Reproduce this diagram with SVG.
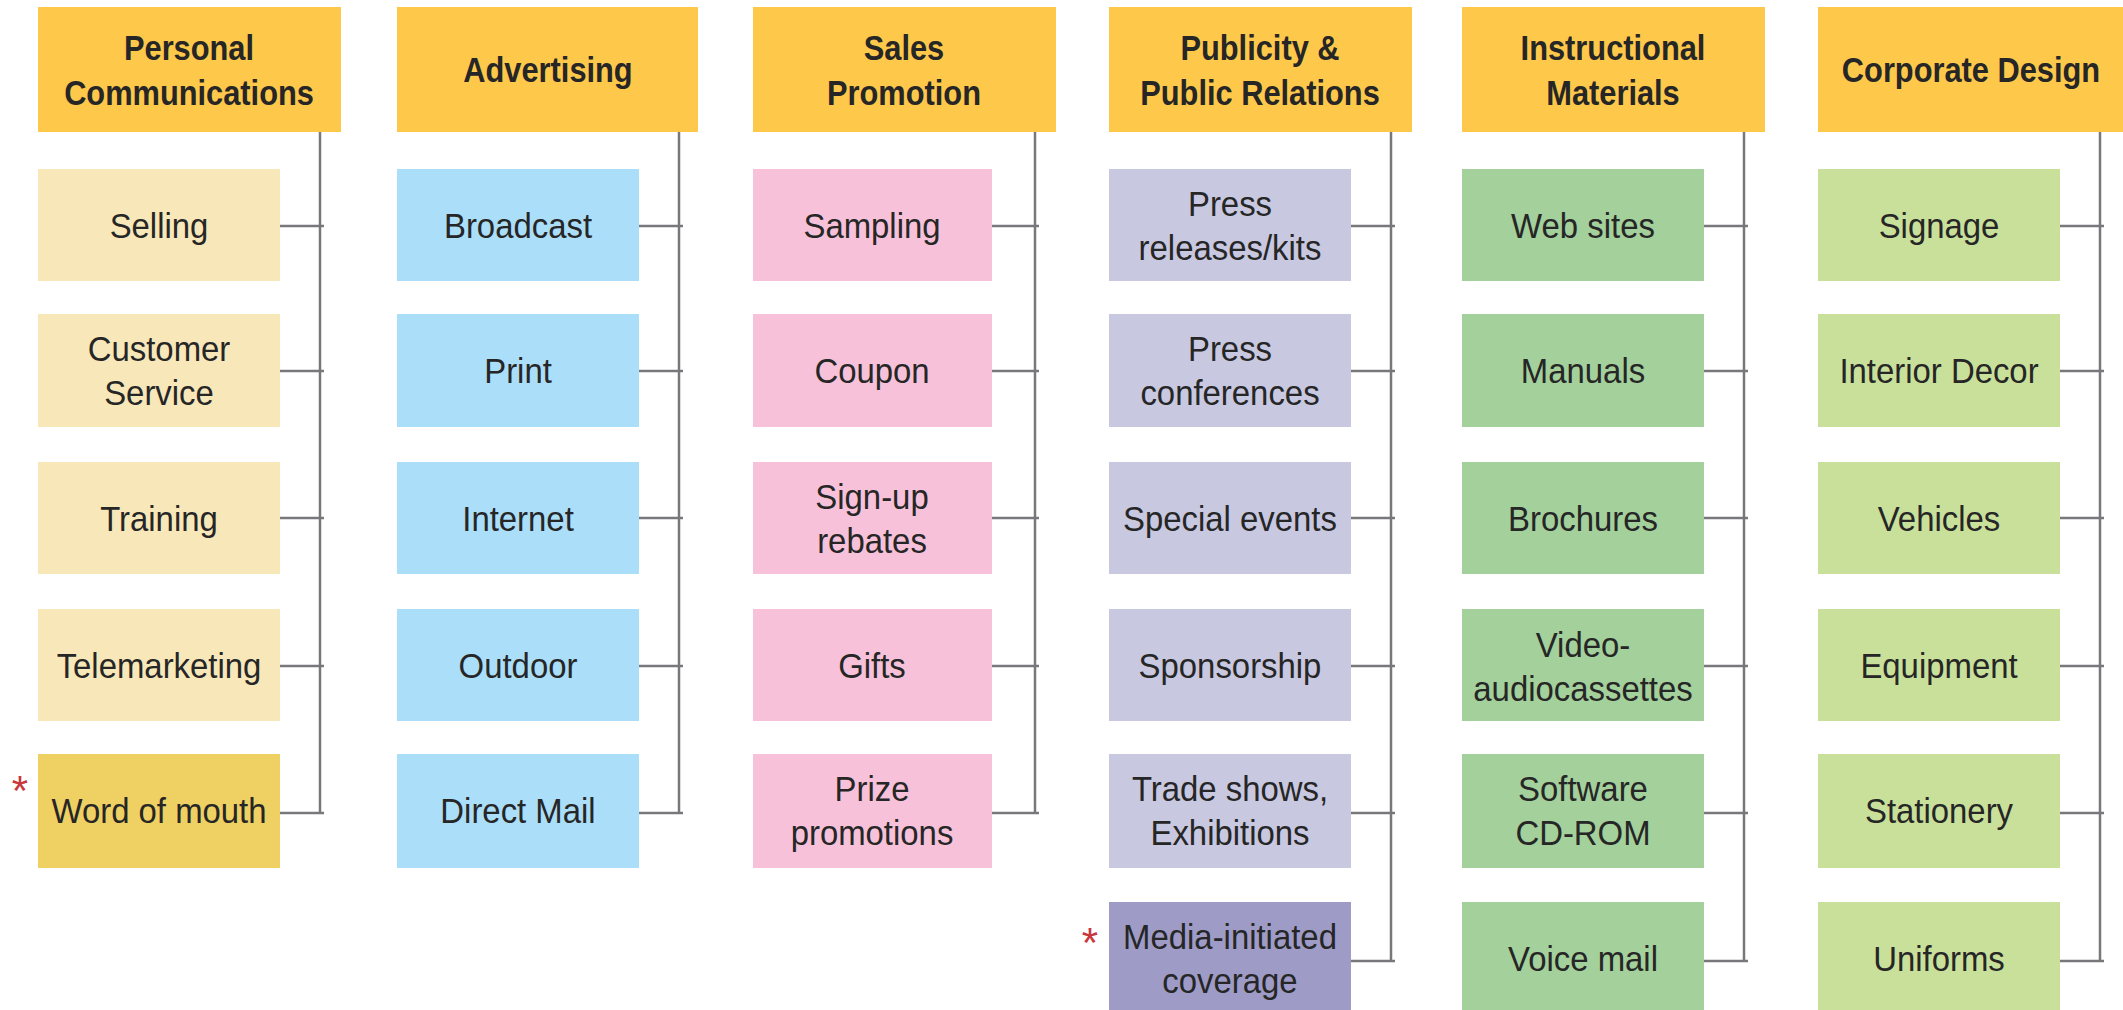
<svg xmlns="http://www.w3.org/2000/svg" width="2123" height="1010" viewBox="0 0 2123 1010">
  <style>
    .hd { fill: #FEC84B; }
    .c1 { fill: #F8E8B9; }
    .c1x { fill: #EFD062; }
    .c2 { fill: #AADEF9; }
    .c3 { fill: #F7C2D9; }
    .c4 { fill: #C8C8E1; }
    .c4x { fill: #9E9CC7; }
    .c5 { fill: #A3D09B; }
    .c6 { fill: #C9E09B; }
    text { font-family: "Liberation Sans", Arial, sans-serif; font-size: 35px; fill: #262626; text-anchor: middle; }
    .b { font-weight: bold; }
    .star { fill: #C8373C; font-size: 42px; }
    .ln { stroke: #77777C; stroke-width: 2.5; fill: none; }
  </style>

  <!-- Connectors: one trunk per column with a tick to each item -->
  <g id="connectors" class="ln">
    <path d="M320 132 V813 M280 226 H324 M280 371 H324 M280 518 H324 M280 666 H324 M280 813 H324"/>
    <path d="M679 132 V813 M639 226 H683 M639 371 H683 M639 518 H683 M639 666 H683 M639 813 H683"/>
    <path d="M1035 132 V813 M992 226 H1039 M992 371 H1039 M992 518 H1039 M992 666 H1039 M992 813 H1039"/>
    <path d="M1391 132 V961 M1351 226 H1395 M1351 371 H1395 M1351 518 H1395 M1351 666 H1395 M1351 813 H1395 M1351 961 H1395"/>
    <path d="M1744 132 V961 M1704 226 H1748 M1704 371 H1748 M1704 518 H1748 M1704 666 H1748 M1704 813 H1748 M1704 961 H1748"/>
    <path d="M2100 132 V961 M2060 226 H2104 M2060 371 H2104 M2060 518 H2104 M2060 666 H2104 M2060 813 H2104 M2060 961 H2104"/>
  </g>

  <!-- Column 1: Personal Communications -->
  <g id="personal-communications">
    <rect class="hd" x="38" y="7" width="303" height="125"/>
    <text class="b" transform="translate(189,0) scale(0.88,1)"><tspan x="0" y="60">Personal</tspan><tspan x="0" y="105">Communications</tspan></text>
  </g>
  <g id="selling">
    <rect class="c1" x="38" y="169" width="242" height="112"/>
    <text transform="translate(159,238) scale(0.94,1)">Selling</text>
  </g>
  <g id="customer-service">
    <rect class="c1" x="38" y="314" width="242" height="113"/>
    <text transform="translate(159,0) scale(0.94,1)"><tspan x="0" y="361">Customer</tspan><tspan x="0" y="405">Service</tspan></text>
  </g>
  <g id="training">
    <rect class="c1" x="38" y="462" width="242" height="112"/>
    <text transform="translate(159,531) scale(0.94,1)">Training</text>
  </g>
  <g id="telemarketing">
    <rect class="c1" x="38" y="609" width="242" height="112"/>
    <text transform="translate(159,678) scale(0.94,1)">Telemarketing</text>
  </g>
  <g id="word-of-mouth">
    <rect class="c1x" x="38" y="754" width="242" height="114"/>
    <text transform="translate(159,823) scale(0.94,1)">Word of mouth</text>
    <text class="star" x="20" y="805">*</text>
  </g>

  <!-- Column 2: Advertising -->
  <g id="advertising">
    <rect class="hd" x="397" y="7" width="301" height="125"/>
    <text class="b" transform="translate(548,82) scale(0.88,1)">Advertising</text>
  </g>
  <g id="broadcast">
    <rect class="c2" x="397" y="169" width="242" height="112"/>
    <text transform="translate(518,238) scale(0.94,1)">Broadcast</text>
  </g>
  <g id="print">
    <rect class="c2" x="397" y="314" width="242" height="113"/>
    <text transform="translate(518,383) scale(0.94,1)">Print</text>
  </g>
  <g id="internet">
    <rect class="c2" x="397" y="462" width="242" height="112"/>
    <text transform="translate(518,531) scale(0.94,1)">Internet</text>
  </g>
  <g id="outdoor">
    <rect class="c2" x="397" y="609" width="242" height="112"/>
    <text transform="translate(518,678) scale(0.94,1)">Outdoor</text>
  </g>
  <g id="direct-mail">
    <rect class="c2" x="397" y="754" width="242" height="114"/>
    <text transform="translate(518,823) scale(0.94,1)">Direct Mail</text>
  </g>

  <!-- Column 3: Sales Promotion -->
  <g id="sales-promotion">
    <rect class="hd" x="753" y="7" width="303" height="125"/>
    <text class="b" transform="translate(904,0) scale(0.88,1)"><tspan x="0" y="60">Sales</tspan><tspan x="0" y="105">Promotion</tspan></text>
  </g>
  <g id="sampling">
    <rect class="c3" x="753" y="169" width="239" height="112"/>
    <text transform="translate(872,238) scale(0.94,1)">Sampling</text>
  </g>
  <g id="coupon">
    <rect class="c3" x="753" y="314" width="239" height="113"/>
    <text transform="translate(872,383) scale(0.94,1)">Coupon</text>
  </g>
  <g id="sign-up-rebates">
    <rect class="c3" x="753" y="462" width="239" height="112"/>
    <text transform="translate(872,0) scale(0.94,1)"><tspan x="0" y="509">Sign-up</tspan><tspan x="0" y="553">rebates</tspan></text>
  </g>
  <g id="gifts">
    <rect class="c3" x="753" y="609" width="239" height="112"/>
    <text transform="translate(872,678) scale(0.94,1)">Gifts</text>
  </g>
  <g id="prize-promotions">
    <rect class="c3" x="753" y="754" width="239" height="114"/>
    <text transform="translate(872,0) scale(0.94,1)"><tspan x="0" y="801">Prize</tspan><tspan x="0" y="845">promotions</tspan></text>
  </g>

  <!-- Column 4: Publicity & Public Relations -->
  <g id="publicity-public-relations">
    <rect class="hd" x="1109" y="7" width="303" height="125"/>
    <text class="b" transform="translate(1260,0) scale(0.88,1)"><tspan x="0" y="60">Publicity &amp;</tspan><tspan x="0" y="105">Public Relations</tspan></text>
  </g>
  <g id="press-releases">
    <rect class="c4" x="1109" y="169" width="242" height="112"/>
    <text transform="translate(1230,0) scale(0.94,1)"><tspan x="0" y="216">Press</tspan><tspan x="0" y="260">releases/kits</tspan></text>
  </g>
  <g id="press-conferences">
    <rect class="c4" x="1109" y="314" width="242" height="113"/>
    <text transform="translate(1230,0) scale(0.94,1)"><tspan x="0" y="361">Press</tspan><tspan x="0" y="405">conferences</tspan></text>
  </g>
  <g id="special-events">
    <rect class="c4" x="1109" y="462" width="242" height="112"/>
    <text transform="translate(1230,531) scale(0.94,1)">Special events</text>
  </g>
  <g id="sponsorship">
    <rect class="c4" x="1109" y="609" width="242" height="112"/>
    <text transform="translate(1230,678) scale(0.94,1)">Sponsorship</text>
  </g>
  <g id="trade-shows">
    <rect class="c4" x="1109" y="754" width="242" height="114"/>
    <text transform="translate(1230,0) scale(0.94,1)"><tspan x="0" y="801">Trade shows,</tspan><tspan x="0" y="845">Exhibitions</tspan></text>
  </g>
  <g id="media-initiated-coverage">
    <rect class="c4x" x="1109" y="902" width="242" height="112"/>
    <text transform="translate(1230,0) scale(0.94,1)"><tspan x="0" y="949">Media-initiated</tspan><tspan x="0" y="993">coverage</tspan></text>
    <text class="star" x="1090" y="957">*</text>
  </g>

  <!-- Column 5: Instructional Materials -->
  <g id="instructional-materials">
    <rect class="hd" x="1462" y="7" width="303" height="125"/>
    <text class="b" transform="translate(1613,0) scale(0.88,1)"><tspan x="0" y="60">Instructional</tspan><tspan x="0" y="105">Materials</tspan></text>
  </g>
  <g id="web-sites">
    <rect class="c5" x="1462" y="169" width="242" height="112"/>
    <text transform="translate(1583,238) scale(0.94,1)">Web sites</text>
  </g>
  <g id="manuals">
    <rect class="c5" x="1462" y="314" width="242" height="113"/>
    <text transform="translate(1583,383) scale(0.94,1)">Manuals</text>
  </g>
  <g id="brochures">
    <rect class="c5" x="1462" y="462" width="242" height="112"/>
    <text transform="translate(1583,531) scale(0.94,1)">Brochures</text>
  </g>
  <g id="video-audiocassettes">
    <rect class="c5" x="1462" y="609" width="242" height="112"/>
    <text transform="translate(1583,0) scale(0.94,1)"><tspan x="0" y="657">Video-</tspan><tspan x="0" y="701">audiocassettes</tspan></text>
  </g>
  <g id="software-cd-rom">
    <rect class="c5" x="1462" y="754" width="242" height="114"/>
    <text transform="translate(1583,0) scale(0.94,1)"><tspan x="0" y="801">Software</tspan><tspan x="0" y="845">CD-ROM</tspan></text>
  </g>
  <g id="voice-mail">
    <rect class="c5" x="1462" y="902" width="242" height="112"/>
    <text transform="translate(1583,971) scale(0.94,1)">Voice mail</text>
  </g>

  <!-- Column 6: Corporate Design -->
  <g id="corporate-design">
    <rect class="hd" x="1818" y="7" width="305" height="125"/>
    <text class="b" transform="translate(1971,82) scale(0.88,1)">Corporate Design</text>
  </g>
  <g id="signage">
    <rect class="c6" x="1818" y="169" width="242" height="112"/>
    <text transform="translate(1939,238) scale(0.94,1)">Signage</text>
  </g>
  <g id="interior-decor">
    <rect class="c6" x="1818" y="314" width="242" height="113"/>
    <text transform="translate(1939,383) scale(0.94,1)">Interior Decor</text>
  </g>
  <g id="vehicles">
    <rect class="c6" x="1818" y="462" width="242" height="112"/>
    <text transform="translate(1939,531) scale(0.94,1)">Vehicles</text>
  </g>
  <g id="equipment">
    <rect class="c6" x="1818" y="609" width="242" height="112"/>
    <text transform="translate(1939,678) scale(0.94,1)">Equipment</text>
  </g>
  <g id="stationery">
    <rect class="c6" x="1818" y="754" width="242" height="114"/>
    <text transform="translate(1939,823) scale(0.94,1)">Stationery</text>
  </g>
  <g id="uniforms">
    <rect class="c6" x="1818" y="902" width="242" height="112"/>
    <text transform="translate(1939,971) scale(0.94,1)">Uniforms</text>
  </g>
</svg>
